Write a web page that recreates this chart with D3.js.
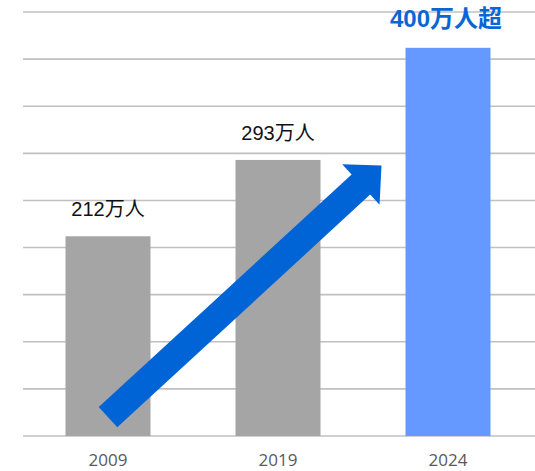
<!DOCTYPE html>
<html><head><meta charset="utf-8">
<script src="https://cdn.jsdelivr.net/npm/d3@7"></script>
<style>body{margin:0;background:#fff}svg{display:block}</style>
</head><body>
<svg id="c" width="535" height="471"></svg>
<script>
const years = ["2009", "2019", "2024"];
const values = [212, 293, 412];
const valueLabels = ["212万人", "293万人", "400万人超"];
const gridTicks = [0, 50, 100, 150, 200, 250, 300, 350, 400, 450];
const arrowFrom = 20, arrowTo = 287;

const W = 535, H = 471;
const svg = d3.select("#c");
const x = d3.scaleBand().domain(years).range([23, 533]).paddingInner(0.5).paddingOuter(0.25);
const y = d3.scaleLinear().domain([0, 450]).range([436, 12]);

// gridlines
svg.append("g").selectAll("line").data(gridTicks).join("line")
  .attr("x1", 23).attr("x2", W)
  .attr("y1", d => y(d)).attr("y2", d => y(d))
  .attr("stroke", "#c0c0c0").attr("stroke-width", 1.6);

// bars
svg.append("g").selectAll("rect").data(years).join("rect")
  .attr("x", d => x(d)).attr("width", x.bandwidth())
  .attr("y", (d, i) => y(values[i])).attr("height", (d, i) => y(0) - y(values[i]))
  .attr("fill", (d, i) => i === 2 ? "#6699ff" : "#a5a5a5");

// x axis labels
svg.append("g").selectAll("text").data(years).join("text")
  .attr("x", d => x(d) + x.bandwidth() / 2).attr("y", 466)
  .attr("text-anchor", "middle")
  .attr("font-family", "'Open Sans', sans-serif").attr("font-size", 17)
  .attr("fill", "#595959").text(d => d);

// value labels
svg.append("g").selectAll("text").data(years).join("text")
  .attr("x", (d, i) => x(d) + x.bandwidth() / 2 + (i === 2 ? -2 : 0))
  .attr("y", (d, i) => y(values[i]) - (i === 2 ? 21 : 20))
  .attr("text-anchor", "middle")
  .attr("font-family", "'Liberation Sans', Arial, 'Noto Sans CJK JP', sans-serif")
  .attr("font-size", (d, i) => i === 2 ? 24 : 20)
  .attr("font-weight", (d, i) => i === 2 ? "bold" : "normal")
  .attr("fill", (d, i) => i === 2 ? "#0a66d6" : "#111")
  .text((d, i) => valueLabels[i]);

// arrow
const x0 = x("2009") + x.bandwidth() / 2, y0 = y(arrowFrom);
const x1 = x("2024") - 24, y1 = y(arrowTo);
const L = Math.hypot(x1 - x0, y1 - y0);
const ang = Math.atan2(y1 - y0, x1 - x0) * 180 / Math.PI;
const hw = 13.7, headL = 28, headW = 27.6;
const pts = [[0, -hw], [L - headL, -hw], [L - headL, -headW], [L, 0], [L - headL, headW], [L - headL, hw], [0, hw]];
svg.append("polygon")
  .attr("points", pts.map(p => p.join(",")).join(" "))
  .attr("transform", `translate(${x0},${y0}) rotate(${ang})`)
  .attr("fill", "#0064d6");
</script>
</body></html>
